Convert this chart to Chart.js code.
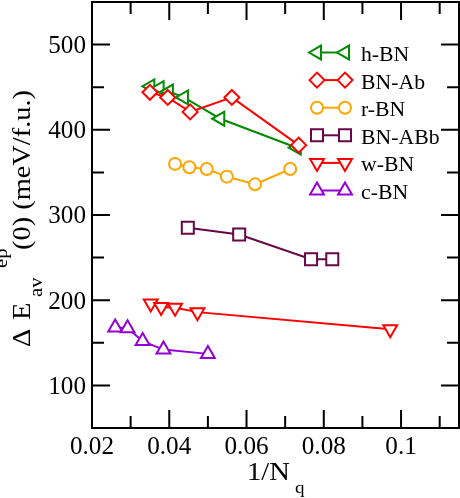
<!DOCTYPE html>
<html><head><meta charset="utf-8">
<script src="https://cdn.jsdelivr.net/npm/chart.js@4.4.0/dist/chart.umd.min.js"></script>
<style>
html,body{margin:0;padding:0;background:#fff;overflow:hidden;}
</style>
</head><body>
<canvas id="c" width="460" height="498" style="width:460px;height:498px;display:block;"></canvas>
<script>
// ---- data ----
const seriesLabels = ['h-BN', 'BN-Ab', 'r-BN', 'BN-ABb', 'w-BN', 'c-BN'];
const hbnX   = [0.0351, 0.0375, 0.0399, 0.0438, 0.0532, 0.0730];
const hbnY   = [451, 449, 445, 438, 413, 379];
const bnabX  = [0.0350, 0.0396, 0.0454, 0.0562, 0.0735];
const bnabY  = [444, 438, 421, 438, 382];
const rbnX   = [0.0415, 0.0452, 0.0497, 0.0549, 0.0622, 0.0713];
const rbnY   = [360, 356, 354, 345, 336, 354];
const bnabbX = [0.0448, 0.0581, 0.0767, 0.0822];
const bnabbY = [285, 277, 248, 248];
const wbnX   = [0.0352, 0.0379, 0.0415, 0.0473, 0.0972];
const wbnY   = [196, 192, 191, 186, 166];
const cbnX   = [0.0260, 0.0292, 0.0331, 0.0385, 0.0500];
const cbnY   = [168, 167, 152, 142, 137];

const xTicks = [0.02, 0.04, 0.06, 0.08, 0.1];
const xTickLabels = ['0.02', '0.04', '0.06', '0.08', '0.1'];
const xMinorTicks = [0.03, 0.05, 0.07, 0.09, 0.11];
const yTicks = [100, 200, 300, 400, 500];
const yTickLabels = ['100', '200', '300', '400', '500'];
const yMinorTicks = [150, 250, 350, 450];

// ---- styles ----
const FAMILY = '"Liberation Serif", "Times New Roman", Times, serif';
const styles = [
  {color: 'rgb(0,139,0)',   pointStyle: 'triangle', rot: -90, r: 8},
  {color: 'rgb(255,0,0)',   pointStyle: 'rectRot',  rot: 0,   r: 7.5},
  {color: 'rgb(255,165,0)', pointStyle: 'circle',   rot: 0,   r: 6},
  {color: 'rgb(103,7,72)',  pointStyle: 'rect',     rot: 0,   r: 8.5},
  {color: 'rgb(255,0,0)',   pointStyle: 'triangle', rot: 180, r: 8},
  {color: 'rgb(148,0,211)', pointStyle: 'triangle', rot: 0,   r: 8}
];
const xs = [hbnX, bnabX, rbnX, bnabbX, wbnX, cbnX];
const ys = [hbnY, bnabY, rbnY, bnabbY, wbnY, cbnY];

const datasets = seriesLabels.map((lab, i) => ({
  label: lab,
  data: xs[i].map((xv, j) => ({x: xv, y: ys[i][j]})),
  showLine: true,
  borderColor: styles[i].color,
  borderWidth: 2,
  pointStyle: styles[i].pointStyle,
  pointRotation: styles[i].rot,
  pointRadius: styles[i].r,
  pointHoverRadius: styles[i].r,
  pointBorderWidth: 2,
  pointBorderColor: styles[i].color,
  pointBackgroundColor: '#ffffff',
  order: seriesLabels.length - i
}));

// font fitting: pick size from a target cap height, horizontal scale from a target width
function capRatio(ctx) {
  ctx.save();
  ctx.font = '100px ' + FAMILY;
  const m = ctx.measureText('H');
  ctx.restore();
  const r = (m.actualBoundingBoxAscent || 66) / 100;
  return r > 0.3 && r < 1 ? r : 0.66;
}
function fit(ctx, str, cap, width) {
  const size = cap / capRatio(ctx);
  ctx.save();
  ctx.font = size + 'px ' + FAMILY;
  const w = ctx.measureText(str).width;
  ctx.restore();
  return {font: size + 'px ' + FAMILY, size: size, sx: width ? width / w : 1};
}
function sText(ctx, str, x, y, f, align, sx) {
  ctx.save();
  ctx.translate(x, y);
  ctx.scale(sx != null ? sx : f.sx, 1);
  ctx.font = f.font;
  ctx.textAlign = align || 'left';
  ctx.textBaseline = 'alphabetic';
  ctx.fillStyle = '#000';
  ctx.fillText(str, 0, 0);
  ctx.restore();
}

function marker(ctx, style, x, y) {
  const r = style.r;
  let rad = style.rot * Math.PI / 180;
  ctx.beginPath();
  if (style.pointStyle === 'circle') {
    ctx.arc(x, y, r, 0, Math.PI * 2);
  } else if (style.pointStyle === 'triangle') {
    ctx.moveTo(x + Math.sin(rad) * r, y - Math.cos(rad) * r);
    rad += 2 * Math.PI / 3;
    ctx.lineTo(x + Math.sin(rad) * r, y - Math.cos(rad) * r);
    rad += 2 * Math.PI / 3;
    ctx.lineTo(x + Math.sin(rad) * r, y - Math.cos(rad) * r);
  } else if (style.pointStyle === 'rect') {
    const s = Math.SQRT1_2 * r;
    ctx.rect(x - s, y - s, 2 * s, 2 * s);
  } else if (style.pointStyle === 'rectRot') {
    ctx.moveTo(x - r, y); ctx.lineTo(x, y - r); ctx.lineTo(x + r, y); ctx.lineTo(x, y + r);
  }
  ctx.closePath();
  ctx.fillStyle = '#fff';
  ctx.fill();
  ctx.lineWidth = 2;
  ctx.strokeStyle = style.color;
  ctx.stroke();
}

const decor = {
  id: 'decor',
  beforeDraw(chart) {
    const ctx = chart.ctx;
    ctx.save();
    ctx.fillStyle = '#fff';
    ctx.fillRect(0, 0, chart.width, chart.height);
    ctx.restore();
  },
  afterDraw(chart) {
    const ctx = chart.ctx;
    const a = chart.chartArea;
    const xS = chart.scales.x, yS = chart.scales.y;
    ctx.save();
    ctx.strokeStyle = '#000';
    ctx.lineWidth = 2;
    ctx.lineCap = 'butt';
    ctx.strokeRect(a.left, a.top, a.right - a.left, a.bottom - a.top);
    const MAJ = 18, MIN = 12;
    ctx.beginPath();
    const tx = (v, len) => {
      const p = xS.getPixelForValue(v);
      ctx.moveTo(p, a.bottom); ctx.lineTo(p, a.bottom - len);
      ctx.moveTo(p, a.top); ctx.lineTo(p, a.top + len);
    };
    const ty = (v, len) => {
      const p = yS.getPixelForValue(v);
      ctx.moveTo(a.left, p); ctx.lineTo(a.left + len, p);
      ctx.moveTo(a.right, p); ctx.lineTo(a.right - len, p);
    };
    xTicks.forEach(v => tx(v, MAJ));
    xMinorTicks.forEach(v => tx(v, MIN));
    yTicks.forEach(v => ty(v, MAJ));
    yMinorTicks.forEach(v => ty(v, MIN));
    ctx.stroke();

    // tick labels
    const tf = fit(ctx, '0.02', 16, 44);
    xTicks.forEach((v, i) => sText(ctx, xTickLabels[i], xS.getPixelForValue(v), 454, tf, 'center'));
    yTicks.forEach((v, i) => sText(ctx, yTickLabels[i], 86, yS.getPixelForValue(v) + 8.3, tf, 'right'));

    // x title 1/N_q
    const xf = fit(ctx, '1/N', 16.5, 43);
    sText(ctx, '1/N', 247, 480, xf, 'left');
    const qf = fit(ctx, 'N', 11, null);
    sText(ctx, 'q', 295, 493, qf, 'left', xf.sx);

    // y title  Δ E_av^ep(0) (meV/f.u.)
    const yf = fit(ctx, '(0) (meV/f.u.)', 16.5, 160);
    const sf = fit(ctx, 'N', 12, null);
    ctx.save();
    ctx.translate(30, 347);
    ctx.rotate(-Math.PI / 2);
    sText(ctx, '\u0394', 0, 0, yf, 'left');
    sText(ctx, 'E', 27, 0, yf, 'left');
    sText(ctx, 'av', 50, 12, sf, 'left', yf.sx);
    sText(ctx, 'ep', 79, -23, sf, 'left', yf.sx);
    sText(ctx, '(0) (meV/f.u.)', 97, 0, yf, 'left');
    ctx.restore();

    // legend
    const lf = fit(ctx, 'BN-Ab', 14, 64);
    seriesLabels.forEach((lab, i) => {
      const cy = 52.5 + i * 27.6;
      const st = styles[i];
      ctx.beginPath();
      ctx.moveTo(317, cy); ctx.lineTo(345, cy);
      ctx.lineWidth = 2; ctx.strokeStyle = st.color; ctx.stroke();
      marker(ctx, st, 317, cy);
      marker(ctx, st, 345, cy);
      sText(ctx, lab, 361, cy + 8.5, lf, 'left');
    });
    ctx.restore();
  }
};

new Chart(document.getElementById('c'), {
  type: 'scatter',
  data: {datasets},
  options: {
    responsive: false,
    animation: false,
    devicePixelRatio: 1,
    layout: {autoPadding: false, padding: {top: 2, right: 1, left: 0, bottom: 0}},
    plugins: {legend: {display: false}, tooltip: {enabled: false}},
    scales: {
      x: {
        type: 'linear', min: 0.02, max: 0.115,
        ticks: {display: false}, grid: {display: false}, border: {display: false},
        afterFit(s) { s.height = 70; }
      },
      y: {
        type: 'linear', min: 50, max: 550,
        ticks: {display: false}, grid: {display: false}, border: {display: false},
        afterFit(s) { s.width = 92; }
      }
    }
  },
  plugins: [decor]
});
</script>
</body></html>
